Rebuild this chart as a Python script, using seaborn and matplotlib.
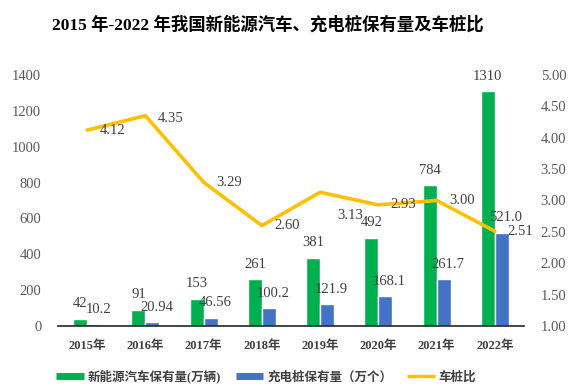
import numpy as np
import pandas as pd
import matplotlib
matplotlib.use('Agg')
import matplotlib.pyplot as plt
from matplotlib.lines import Line2D
import seaborn as sns

years = ['2015年', '2016年', '2017年', '2018年', '2019年', '2020年', '2021年', '2022年']
ev_stock = [42, 91, 153, 261, 381, 492, 784, 1310]
pile_stock = [10.2, 20.94, 46.56, 100.2, 121.9, 168.1, 261.7, 521.0]
pile_labels = ['10.2', '20.94', '46.56', '100.2', '121.9', '168.1', '261.7', '521.0']
ratio = [4.12, 4.35, 3.29, 2.60, 3.13, 2.93, 3.00, 2.51]

ev_name = '新能源汽车保有量(万辆)'
pile_name = '充电桩保有量（万个）'
ratio_name = '车桩比'

green = '#00B050'
blue = '#4472C4'
gold = '#FFC000'

sns.set_style('white')
fonts = ['Liberation Serif', 'Noto Sans CJK SC', 'DejaVu Sans']
plt.rcParams['font.family'] = fonts

df = pd.DataFrame({
    'year': years * 2,
    'value': ev_stock + pile_stock,
    'kind': [ev_name] * len(years) + [pile_name] * len(years),
})

fig = plt.figure(figsize=(5.76, 3.9), dpi=100)
ax = fig.add_axes([0.1007, 0.164, 0.809, 0.644])

sns.barplot(data=df, x='year', y='value', hue='kind', palette=[green, blue],
            width=0.48, gap=0, ax=ax, legend=False, saturation=1)
ax.set_xlim(-0.5, len(years) - 0.5)
ax.set_ylim(0, 1400)
ax.set_yticks(range(0, 1401, 200))
ax.set_xlabel('')
ax.set_ylabel('')
ax.tick_params(axis='y', length=0, pad=12, labelsize=10.5, labelcolor='#595959')
ax.tick_params(axis='x', length=0, pad=10, labelsize=9, labelcolor='#404040')
for lab in ax.get_xticklabels():
    lab.set_fontweight('bold')
for s in ['top', 'left', 'right']:
    ax.spines[s].set_visible(False)
ax.spines['bottom'].set_color('#262626')
ax.spines['bottom'].set_linewidth(1.2)

# bar value labels
green_bars, blue_bars = ax.containers[0], ax.containers[1]
for rect, v in zip(green_bars, ev_stock):
    ax.annotate(str(v), (rect.get_x() + rect.get_width() / 2, rect.get_height()),
                xytext=(0, 6), textcoords='offset points', ha='center', va='bottom',
                fontsize=10.5, color='#404040')
for rect, t in zip(blue_bars, pile_labels):
    ax.annotate(t, (rect.get_x() + rect.get_width() / 2, rect.get_height()),
                xytext=(3, 6), textcoords='offset points', ha='center', va='bottom',
                fontsize=10.5, color='#404040')

# ratio line on right axis
ax2 = ax.twinx()
sns.lineplot(x=np.arange(len(years)), y=ratio, color=gold, linewidth=2.6, ax=ax2)
ax2.set_ylim(1, 5)
ax2.set_yticks(np.arange(1, 5.01, 0.5))
ax2.set_yticklabels([f'{t:.2f}' for t in np.arange(1, 5.01, 0.5)])
ax2.tick_params(axis='y', length=0, pad=12, labelsize=10.5, labelcolor='#595959')
for s in ['top', 'left', 'right', 'bottom']:
    ax2.spines[s].set_visible(False)
ax2.set_xlim(-0.5, len(years) - 0.5)

label_offsets = [(9, 0), (9, -2), (9, 0), (9, 0), (12, -17), (9, 0), (9, 0), (9, 0)]
for i, (r, off) in enumerate(zip(ratio, label_offsets)):
    ax2.annotate(f'{r:.2f}', (i, r), xytext=off, textcoords='offset points',
                 ha='left', va='center', fontsize=10.5, color='#404040')

fig.suptitle('2015 年-2022 年我国新能源汽车、充电桩保有量及车桩比', x=0.465, y=0.96,
             fontsize=12.5, fontweight='bold', color='black')

handles = [Line2D([0], [0], color=green, linewidth=5, solid_capstyle='butt'),
           Line2D([0], [0], color=blue, linewidth=5, solid_capstyle='butt'),
           Line2D([0], [0], color=gold, linewidth=2.5, solid_capstyle='butt')]
leg = fig.legend(handles, [ev_name, pile_name, ratio_name], loc='center',
                 bbox_to_anchor=(0.462, 0.035), ncol=3, frameon=False,
                 handlelength=2.2, columnspacing=1.2, handletextpad=0.3,
                 prop={'weight': 'bold', 'size': 9})
for t in leg.get_texts():
    t.set_color('#404040')

fig.savefig('out.png', dpi=100)
